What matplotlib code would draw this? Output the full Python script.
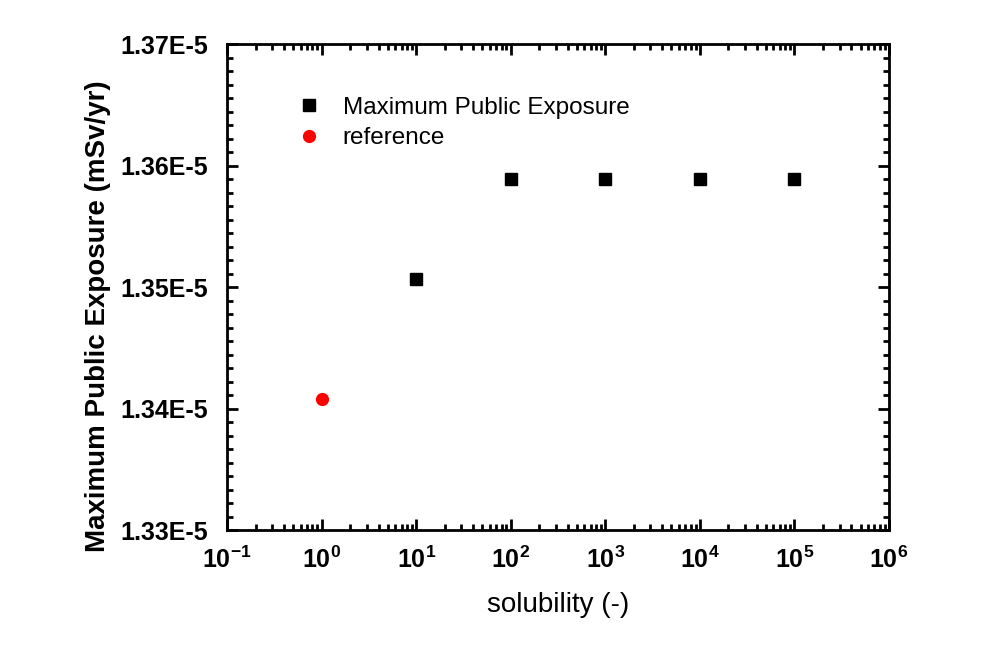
import numpy as np
import matplotlib
matplotlib.use("Agg")
import matplotlib.pyplot as plt
from matplotlib.ticker import FuncFormatter, LogLocator, FixedLocator

plt.rcParams['font.family'] = ['Liberation Sans', 'DejaVu Sans']
plt.rcParams['axes.unicode_minus'] = False
plt.rcParams['mathtext.fontset'] = 'custom'
plt.rcParams['mathtext.rm'] = 'Liberation Sans:bold'
plt.rcParams['mathtext.bf'] = 'Liberation Sans:bold'
plt.rcParams['mathtext.it'] = 'Liberation Sans:bold'

# data
solubility = [10, 100, 1000, 10000, 100000]
exposure = [1.35066e-5, 1.35889e-5, 1.35889e-5, 1.35889e-5, 1.35889e-5]
ref_solubility = [1]
ref_exposure = [1.34078e-5]
y_ticks = [1.33e-5, 1.34e-5, 1.35e-5, 1.36e-5, 1.37e-5]

fig = plt.figure(figsize=(9.96, 6.52), dpi=100)
ax = fig.add_axes([0.228, 0.187, 0.6646, 0.7455])

ax.plot(solubility, exposure, 's', color='black', markersize=8,
        label='Maximum Public Exposure')
ax.plot(ref_solubility, ref_exposure, 'o', color='#ff0000', markersize=8.5,
        label='reference')

ax.set_xscale('log')
ax.set_xlim(1e-1, 1e6)
ax.set_ylim(1.33e-5, 1.37e-5)

ax.xaxis.set_major_locator(LogLocator(base=10, numticks=20))
ax.xaxis.set_minor_locator(LogLocator(base=10, subs=np.arange(2, 10), numticks=20))
ax.xaxis.set_major_formatter(FuncFormatter(lambda v, p: r'$\mathbf{10^{%d}}$' % round(np.log10(v))))
ax.yaxis.set_major_locator(FixedLocator(y_ticks))
ax.yaxis.set_minor_locator(FixedLocator(np.linspace(1.33e-5, 1.37e-5, 37)))
ax.yaxis.set_major_formatter(FuncFormatter(lambda v, p: '%.2fE-5' % (v * 1e5)))

ax.tick_params(which='both', direction='in', top=True, right=True, width=2)
ax.tick_params(which='major', length=8, labelsize=18)
ax.tick_params(which='minor', length=4)
ax.tick_params(axis='y', which='major', pad=14)
ax.tick_params(axis='x', which='major', pad=12)
for lab in ax.get_yticklabels() + ax.get_xticklabels():
    lab.set_fontweight('bold')
for s in ax.spines.values():
    s.set_linewidth(2)

ax.set_xlabel('solubility (-)', fontsize=20)
ax.xaxis.set_label_coords(0.5, -0.128)
ax.set_ylabel('Maximum Public Exposure (mSv/yr)', fontsize=20,
              fontweight='bold')
ax.yaxis.set_label_coords(-0.176, 0.44)

ax.legend(loc='upper left', bbox_to_anchor=(0.072, 0.937), frameon=False,
          fontsize=17.5, handletextpad=0.9, labelspacing=0.35,
          handlelength=1.0)

fig.savefig('out.png', dpi=100)
